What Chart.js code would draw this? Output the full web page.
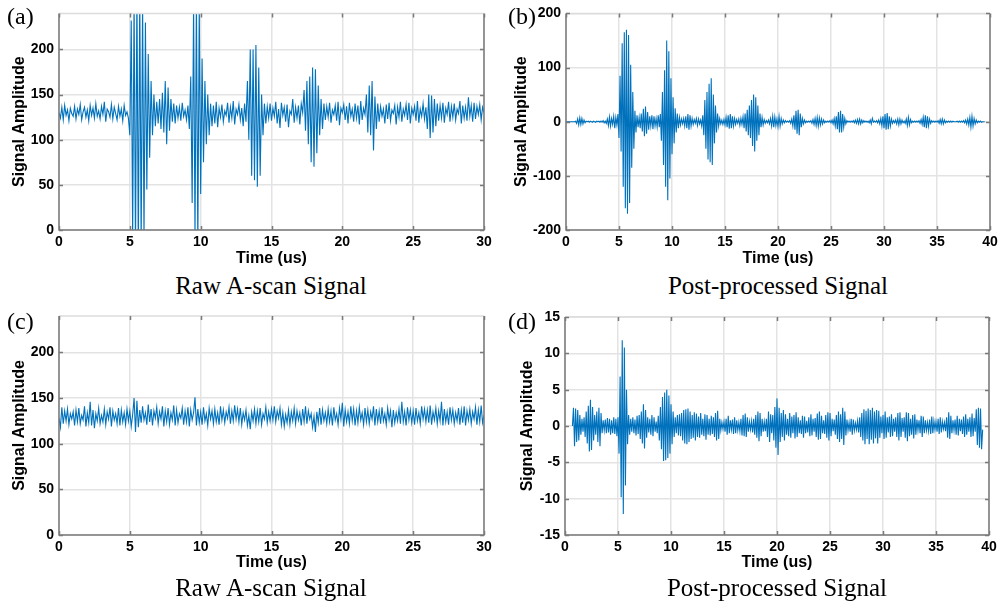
<!DOCTYPE html>
<html>
<head>
<meta charset="utf-8">
<script src="https://cdn.jsdelivr.net/npm/chart.js@4"></script>
<style>
  html, body { margin: 0; padding: 0; background: #fff; }
  body { width: 1004px; height: 604px; position: relative; overflow: hidden; }
  .panel { position: absolute; }
  .tag, .caption {
    position: absolute;
    font-family: 'Liberation Serif', 'Times New Roman', serif;
    font-size: 24px;
    line-height: 24px;
    color: #000;
    white-space: nowrap;
  }
  .caption { font-size: 25px; transform: translateX(-50%); }
</style>
</head>
<body>

<div class="panel" style="left:0;top:0;width:500px;height:272px"><canvas id="chart-a"></canvas></div>
<div class="panel" style="left:500px;top:0;width:504px;height:272px"><canvas id="chart-b"></canvas></div>
<div class="panel" style="left:0;top:300px;width:500px;height:276px"><canvas id="chart-c"></canvas></div>
<div class="panel" style="left:500px;top:300px;width:504px;height:276px"><canvas id="chart-d"></canvas></div>

<div class="tag" style="left:7px;top:4px">(a)</div>
<div class="tag" style="left:508px;top:4px">(b)</div>
<div class="tag" style="left:7px;top:309px">(c)</div>
<div class="tag" style="left:508px;top:309px">(d)</div>

<div class="caption" style="left:271px;top:274px">Raw A-scan Signal</div>
<div class="caption" style="left:778px;top:274px">Post-processed Signal</div>
<div class="caption" style="left:271px;top:576px">Raw A-scan Signal</div>
<div class="caption" style="left:777px;top:576px">Post-processed Signal</div>

<script>
// ── Data (sample step 0.1 us, first sample at t = 0) ─────────
const DT = 0.1;

// (a) raw A-scan, 0–30 us
const rawA = [
  130,124,136,122,138,127,133,121,135,129,
  126,137,123,134,128,139,122,131,136,125,
  133,121,138,127,135,124,140,126,132,123,
  137,128,142,120,134,131,125,139,123,136,
  129,122,137,126,134,121,138,127,131,124,
  105,232,-10,260,-30,270,-30,265,-20,255,
  -10,230,45,195,80,165,105,150,115,142,
  118,145,112,152,108,165,95,158,110,145,
  120,140,118,138,124,136,121,141,126,133,
  122,138,112,170,30,250,-10,260,-20,250,
  40,190,75,165,95,150,105,140,115,138,
  118,142,114,135,125,139,120,132,127,141,
  119,136,124,143,117,134,128,139,122,135,
  115,140,120,165,100,200,60,200,55,205,
  48,180,60,150,105,140,118,137,124,140,
  121,135,126,142,118,134,113,141,127,136,
  120,139,114,132,128,145,119,136,124,138,
  117,140,130,155,110,165,95,170,75,180,
  70,178,85,160,105,145,112,140,122,137,
  125,141,119,133,128,138,121,142,116,135,
  130,139,122,137,118,141,126,134,120,140,
  124,138,117,143,122,135,128,150,108,160,
  105,165,88,148,112,140,120,137,126,134,
  118,139,123,141,121,133,129,138,117,136,
  125,142,120,134,127,139,122,141,118,135,
  128,137,121,143,119,134,126,140,123,136,
  112,150,102,149,108,145,115,140,121,138,
  124,141,119,135,128,142,120,137,125,140,
  122,134,129,143,118,138,124,136,121,147,
  126,138,120,141,123,137,128,139,122,136,
  130
];

// (b) post-processed, 0–40 us
const procB = [
  0,0,0,0,0,0,0,0,0,1,
  -3,5,-6,7,-5,6,-4,3,-2,1,
  0,1,-1,1,0,-1,1,0,-1,1,
  0,1,-1,1,-1,2,-2,1,-3,5,
  -7,9,-8,6,-5,10,-12,8,-6,14,
  -30,85,-55,145,-120,165,-160,170,-170,160,
  -150,105,-85,55,-50,20,-20,12,-10,8,
  -12,15,-18,24,-27,28,-22,18,-15,10,
  -8,12,-14,10,-8,6,-10,12,-10,14,
  -35,55,-80,95,-120,150,-145,130,-105,80,
  -60,45,-40,25,-20,15,-12,8,-6,5,
  -4,6,-8,10,-12,14,-15,12,-8,6,
  -5,4,-3,6,-7,5,-4,3,-8,12,
  -25,40,-50,55,-70,70,-75,80,-80,50,
  -40,30,-20,15,-8,6,-4,3,-5,4,
  -6,8,-10,12,-13,14,-12,10,-8,6,
  -5,4,-3,5,-7,6,-5,9,-12,15,
  -18,22,-25,30,-30,40,-45,50,-55,45,
  -35,30,-25,15,-10,8,-6,4,-3,2,
  -2,3,-4,6,-8,10,-10,9,-7,5,
  -9,10,-8,6,-4,3,-2,2,-1,1,
  -1,2,-3,5,-8,12,-15,20,-22,22,
  -25,15,-10,6,-4,3,-2,1,-1,1,
  -1,2,-3,4,-5,6,-7,8,-8,7,
  -6,5,-4,3,-2,1,-1,1,-1,2,
  -2,3,-4,6,-8,10,-14,18,-20,20,
  -20,14,-10,6,-4,2,-1,1,-1,1,
  -1,2,-2,3,-3,4,-4,5,-4,3,
  -2,2,-1,1,-1,1,-2,3,-4,6,
  -1,1,-1,2,-2,3,-4,6,-8,10,
  -12,14,-15,16,-14,10,-8,5,-3,2,
  -2,3,-4,5,-6,5,-4,3,-2,1,
  -3,5,-7,8,-6,4,-2,1,-1,1,
  -1,1,-1,2,-3,4,-5,8,-10,12,
  -12,10,-8,5,-3,2,-1,1,-1,1,
  -1,2,-3,4,-4,5,-4,3,-2,1,
  -1,1,-1,1,-1,1,0,0,0,1,
  -1,1,-1,1,-1,2,-2,3,-4,5,
  -6,8,-10,10,-8,6,-4,3,-2,1,
  -1,1,-1,0,0,0,null,null,null,null,
  null
];

// (c) raw A-scan, 0–30 us
const rawC = [
  128,118,140,122,136,125,138,121,133,127,
  135,120,137,124,139,122,131,126,141,119,
  134,123,146,120,137,117,133,125,139,122,
  131,124,138,121,135,127,140,119,136,126,
  133,122,139,120,137,124,134,121,138,125,
  136,119,132,150,113,147,118,137,123,141,
  126,134,121,143,124,138,120,136,128,140,
  122,135,127,141,119,136,124,139,121,134,
  126,142,120,137,123,133,128,139,121,136,
  124,140,119,137,126,134,151,120,138,123,
  135,121,140,125,133,120,139,127,136,122,
  138,124,134,121,141,126,137,123,135,128,
  140,122,136,125,142,127,138,124,139,121,
  134,126,137,120,131,116,135,125,138,122,
  136,124,139,121,133,127,140,123,135,125,
  138,126,141,124,136,128,139,121,134,119,
  132,123,137,121,135,125,139,122,136,126,
  134,120,138,124,141,122,136,127,133,118,
  130,113,135,123,139,121,137,125,134,122,
  138,124,136,120,140,126,133,121,139,127,
  145,119,137,124,135,122,141,125,138,120,
  136,123,140,126,134,121,139,124,137,122,
  135,127,141,120,138,124,136,122,140,125,
  133,121,139,126,136,118,137,123,134,125,
  138,122,146,124,135,120,140,126,137,123,
  136,121,139,125,134,122,141,127,138,124,
  137,123,142,121,135,126,139,122,136,125,
  146,120,138,124,135,121,140,126,137,122,
  134,125,139,121,137,123,141,120,136,126,
  138,122,135,127,140,121,137,124,142,123,
  131
];

// (d) post-processed, 0–40 us
const procD = [
  null,null,null,null,null,null,null,0,2.5,-2.8,
  2.4,-2.2,2.2,-2.0,1.5,-1.2,1.0,-0.8,1.2,-1.5,
  2.0,-2.4,2.8,-3.5,3.6,-3.3,2.6,-2.0,1.5,-1.2,
  2.0,-2.2,2.5,-2.8,1.8,-1.0,0.8,-0.6,0.9,-1.0,
  1.1,-0.9,1.0,-1.2,0.8,-1.0,1.2,-1.1,1.0,-1.4,
  1.2,-3.8,6.8,-9.8,11.8,-12.1,10.8,-8.2,5.0,-2.5,
  1.5,-1.2,1.0,-0.8,1.2,-1.0,0.9,-1.3,1.4,-1.1,
  1.5,-1.8,2.0,-2.4,3.0,-3.1,2.2,-1.6,1.2,-0.9,
  1.0,-1.2,1.5,-1.4,1.2,-0.8,0.6,-1.0,1.4,-2.0,
  2.6,-3.2,4.0,-4.8,4.6,-4.7,5.0,-4.4,4.2,-3.8,
  3.0,-2.5,2.0,-1.5,1.2,-1.0,1.5,-1.3,1.6,-1.4,
  1.8,-2.0,2.2,-2.4,2.3,-2.5,2.4,-2.2,2.0,-1.8,
  1.5,-1.6,1.9,-2.0,1.7,-1.5,1.3,-1.6,1.8,-1.2,
  1.0,-1.4,1.6,-1.9,1.5,-1.2,1.0,-1.3,1.4,-1.1,
  1.2,-1.5,1.8,-2.0,2.1,-1.8,1.0,-0.6,0.5,-0.4,
  0.6,-0.8,1.0,-1.2,1.4,-1.0,0.8,-0.5,0.9,-1.1,
  1.2,-1.0,0.8,-0.6,0.5,-0.7,1.0,-1.3,1.5,-1.4,
  1.7,-1.5,1.2,-0.8,0.6,-0.5,0.7,-0.9,1.0,-1.2,
  1.5,-1.6,2.0,-2.1,1.8,-1.4,1.0,-0.8,0.6,-0.7,
  1.0,-1.5,2.0,-2.2,1.6,-1.0,1.5,-2.0,2.6,-3.0,
  3.8,-4.0,2.5,-2.2,1.8,-1.5,2.2,-2.0,1.6,-1.2,
  1.0,-1.4,1.8,-1.6,1.3,-1.0,1.5,-1.7,1.9,-1.5,
  1.2,-1.0,0.8,-1.1,1.4,-1.6,1.3,-1.0,0.7,-0.9,
  1.2,-1.4,1.6,-1.3,1.0,-0.8,1.1,-1.5,1.7,-1.9,
  2.0,-1.8,1.4,-1.0,0.8,-1.1,1.5,-1.6,1.9,-2.0,
  1.8,-1.4,1.0,-0.7,0.9,-1.2,1.5,-1.8,2.0,-2.2,
  1.6,-1.8,2.5,-2.6,2.0,-1.3,0.9,-0.6,0.5,-0.8,
  1.0,-1.2,0.9,-0.6,0.4,-0.5,0.7,-0.9,1.2,-1.5,
  1.8,-2.0,2.3,-2.5,2.1,-1.8,2.4,-2.5,2.2,-1.9,
  2.5,-2.4,2.0,-1.7,2.2,-2.4,2.1,-1.6,1.3,-1.0,
  1.5,-1.8,2.0,-1.6,1.2,-0.9,1.3,-1.5,1.6,-1.4,
  1.0,-0.8,1.2,-1.5,1.8,-2.0,1.9,-1.5,1.1,-0.8,
  1.2,-1.6,1.9,-2.1,1.8,-1.4,1.0,-1.2,1.5,-1.7,
  1.6,-1.2,0.9,-0.6,0.8,-1.0,1.4,-1.5,1.3,-1.0,
  0.8,-0.6,0.5,-0.7,0.9,-1.1,1.3,-1.0,0.7,-0.5,
  0.6,-0.8,1.0,-1.1,1.2,-0.9,0.6,-0.4,0.5,-0.7,
  1.2,-1.6,1.9,-1.8,1.4,-1.0,0.8,-0.6,0.9,-1.2,
  1.4,-1.3,1.0,-0.7,0.9,-1.1,1.3,-1.5,1.6,-1.2,
  1.0,-0.8,1.2,-1.5,1.7,-1.4,1.1,-0.8,2.3,-2.6,
  2.5,-3.0,2.4,-3.2,-0.5,null,null,null,null,null,
  null
];

// ── Look ────────────────────────────────────────────────────
const LINE_COLOR = '#0072BD';
const GRID_COLOR = '#e3e3e3';
const AXIS_COLOR = '#7a7a7a';
const TEXT_COLOR = '#000';
const SANS = "'Liberation Sans', Arial, Helvetica, sans-serif";

// box round the plot area with MATLAB-style inward ticks
const boxPlugin = {
  id: 'box',
  afterDraw(chart) {
    const { ctx, chartArea: a, scales: { x, y } } = chart;
    const tl = 4;
    ctx.save();
    ctx.lineWidth = 1.5;
    ctx.strokeStyle = '#dcdcdc';
    ctx.beginPath();
    ctx.moveTo(a.left, a.top); ctx.lineTo(a.right, a.top);
    ctx.stroke();
    ctx.strokeStyle = AXIS_COLOR;
    ctx.beginPath();
    ctx.moveTo(a.left, a.top); ctx.lineTo(a.left, a.bottom);
    ctx.lineTo(a.right, a.bottom); ctx.lineTo(a.right, a.top);
    x.ticks.forEach(t => {
      const px = Math.round(x.getPixelForValue(t.value)) + 0.5;
      ctx.moveTo(px, a.bottom); ctx.lineTo(px, a.bottom - tl);
      ctx.moveTo(px, a.top); ctx.lineTo(px, a.top + tl);
    });
    y.ticks.forEach(t => {
      const py = Math.round(y.getPixelForValue(t.value)) + 0.5;
      ctx.moveTo(a.left, py); ctx.lineTo(a.left + tl, py);
      ctx.moveTo(a.right, py); ctx.lineTo(a.right - tl, py);
    });
    ctx.stroke();
    ctx.restore();
  }
};

function toPoints(values) {
  return values.map((v, i) => ({ x: +(i * DT).toFixed(1), y: v }));
}

function buildChart(id, values, cfg) {
  return new Chart(document.getElementById(id), {
    type: 'line',
    data: {
      datasets: [{
        data: toPoints(values),
        borderColor: LINE_COLOR,
        borderWidth: 1.1,
        pointRadius: 0,
        tension: 0,
        spanGaps: false,
      }]
    },
    options: {
      responsive: true,
      maintainAspectRatio: false,
      animation: false,
      events: [],
      layout: { padding: cfg.padding },
      plugins: { legend: { display: false }, tooltip: { enabled: false } },
      scales: {
        x: {
          type: 'linear',
          min: 0, max: cfg.xMax,
          afterFit: s => { s.height = cfg.xHeight; },
          ticks: {
            stepSize: 5, includeBounds: false, padding: 4, maxRotation: 0,
            color: TEXT_COLOR, font: { family: SANS, size: 14, weight: 'bold' },
          },
          grid: { color: GRID_COLOR, lineWidth: 1.5, drawTicks: false },
          border: { display: false },
          title: {
            display: true, text: 'Time (us)', color: TEXT_COLOR,
            font: { family: SANS, size: 16, weight: 'bold' },
          },
        },
        y: {
          min: cfg.yMin, max: cfg.yMax,
          afterFit: s => { s.width = cfg.yWidth; },
          ticks: {
            stepSize: cfg.yStep, includeBounds: false, padding: 5,
            color: TEXT_COLOR, font: { family: SANS, size: 14, weight: 'bold' },
          },
          grid: { color: GRID_COLOR, lineWidth: 1.5, drawTicks: false },
          border: { display: false },
          title: {
            display: true, text: 'Signal Amplitude', color: TEXT_COLOR,
            font: { family: SANS, size: 16, weight: 'bold' },
          },
        },
      },
    },
    plugins: [boxPlugin],
  });
}

// ── Boot ────────────────────────────────────────────────────
buildChart('chart-a', rawA, {
  xMax: 30, yMin: 0, yMax: 240, yStep: 50,
  padding: { left: 6, right: 16, top: 13, bottom: 0 }, yWidth: 53, xHeight: 42,
});
buildChart('chart-b', procB, {
  xMax: 40, yMin: -200, yMax: 200, yStep: 100,
  padding: { left: 8, right: 14, top: 13, bottom: 0 }, yWidth: 58, xHeight: 42,
});
buildChart('chart-c', rawC, {
  xMax: 30, yMin: 0, yMax: 240, yStep: 50,
  padding: { left: 6, right: 16, top: 16, bottom: 0 }, yWidth: 53, xHeight: 41,
});
buildChart('chart-d', procD, {
  xMax: 40, yMin: -15, yMax: 15, yStep: 5,
  padding: { left: 14, right: 15, top: 17, bottom: 0 }, yWidth: 51, xHeight: 41,
});
</script>
</body>
</html>
